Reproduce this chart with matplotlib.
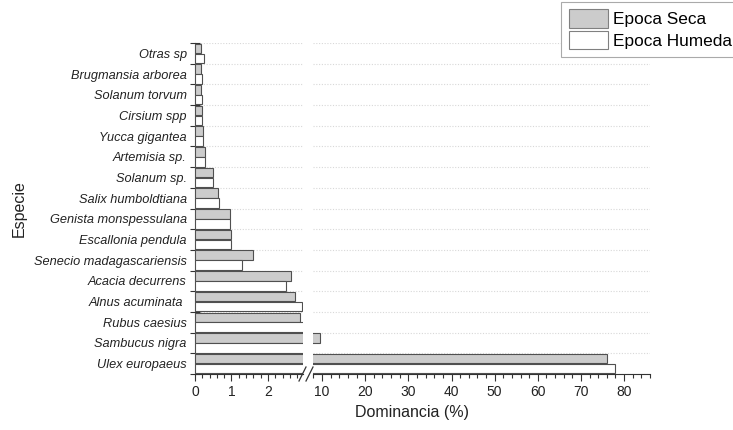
import matplotlib
matplotlib.use("Agg")
import matplotlib.pyplot as plt
import numpy as np
from matplotlib.lines import Line2D
from matplotlib.patches import Patch
from matplotlib.ticker import MultipleLocator, FixedLocator

plt.rcParams["font.family"] = ["Liberation Sans", "DejaVu Sans"]

species = [
    "Otras sp", "Brugmansia arborea", "Solanum torvum", "Cirsium spp",
    "Yucca gigantea", "Artemisia sp.", "Solanum sp.", "Salix humboldtiana",
    "Genista monspessulana", "Escallonia pendula", "Senecio madagascariensis",
    "Acacia decurrens", "Alnus acuminata ", "Rubus caesius", "Sambucus nigra",
    "Ulex europaeus",
]
seca = [0.17, 0.17, 0.17, 0.20, 0.22, 0.27, 0.49, 0.62, 0.95, 0.99,
        1.58, 2.62, 2.74, 2.88, 9.5, 76.0]
humeda = [0.25, 0.19, 0.19, 0.19, 0.21, 0.27, 0.48, 0.65, 0.97, 1.00,
          1.29, 2.50, 2.92, 5.0, 5.0, 78.0]

W, H = 733, 430
fig = plt.figure(figsize=(W / 100, H / 100), dpi=100)

# pixel geometry of the two axis segments
y_top, y_bot = 43, 374
ax_l = fig.add_axes([195 / W, 1 - y_bot / H, 108.4 / W, (y_bot - y_top) / H])
ax_r = fig.add_axes([313 / W, 1 - y_bot / H, 337 / W, (y_bot - y_top) / H], sharey=ax_l)

y = np.arange(len(species))
bh = 0.46
edge = "#505050"
for ax in (ax_l, ax_r):
    ax.barh(y - 0.24, seca, height=bh, color="#cccccc", edgecolor=edge, linewidth=0.8, zorder=3)
    ax.barh(y + 0.24, humeda, height=bh, color="white", edgecolor=edge, linewidth=0.8, zorder=3)
    ax.set_ylim(len(species) - 0.5, -0.5)
    ax.yaxis.set_minor_locator(FixedLocator(np.arange(-0.5, len(species), 1.0)))
    ax.grid(which="minor", axis="y", linestyle=(0, (1, 1.5)), color="#d8d8d8", linewidth=0.8, zorder=0)
    ax.spines["top"].set_visible(False)
    ax.spines["right"].set_visible(False)
    ax.spines["bottom"].set_color("#333333")
    ax.spines["left"].set_color("#333333")
    ax.tick_params(axis="x", which="major", direction="out", length=5, width=0.8,
                   color="#333333", labelsize=10, pad=3, labelcolor="#222222")
    ax.tick_params(axis="x", which="minor", direction="out", length=3, width=0.8, color="#333333")

ax_l.set_xlim(0, 2.97)
ax_l.xaxis.set_major_locator(FixedLocator([0, 1, 2]))
ax_l.xaxis.set_minor_locator(MultipleLocator(0.2))
ax_l.set_yticks(y)
ax_l.set_yticklabels(species, fontstyle="italic", fontsize=9.2, color="#222222")
ax_l.tick_params(axis="y", which="major", length=0, pad=6)
ax_l.tick_params(axis="y", which="minor", direction="inout", length=7, width=0.8, color="#333333")
ax_l.set_ylabel("Especie", fontsize=11.5, color="#222222")
ax_l.yaxis.set_label_coords(-1.55, 0.5)

ax_r.set_xlim(7.9, 86)
ax_r.xaxis.set_major_locator(MultipleLocator(10))
ax_r.xaxis.set_minor_locator(MultipleLocator(2))
ax_r.spines["left"].set_visible(False)
ax_r.tick_params(axis="y", which="both", left=False, labelleft=False)

fig.text(412 / W, 1 - 413 / H, "Dominancia (%)", ha="center", va="center",
         fontsize=11.5, color="#222222")

# break marks
for x0 in (299, 306):
    fig.add_artist(Line2D([x0 / W, (x0 + 7) / W], [1 - 381 / H, 1 - 367 / H],
                          color="#333333", linewidth=0.9))

handles = [Patch(facecolor="#cccccc", edgecolor="#808080", linewidth=0.8),
           Patch(facecolor="white", edgecolor="#808080", linewidth=0.8)]
leg = fig.legend(handles, ["Epoca Seca", "Epoca Humeda"], loc="upper right",
                 bbox_to_anchor=(1.012, 1.0), fontsize=12.4, handlelength=2.3,
                 handleheight=1.25, labelspacing=0.2, handletextpad=0.3,
                 borderpad=0.45, borderaxespad=0.1, fancybox=False, framealpha=1)
leg.get_frame().set_edgecolor("#aaaaaa")
leg.get_frame().set_linewidth(0.8)

fig.savefig("out.png", dpi=100)
